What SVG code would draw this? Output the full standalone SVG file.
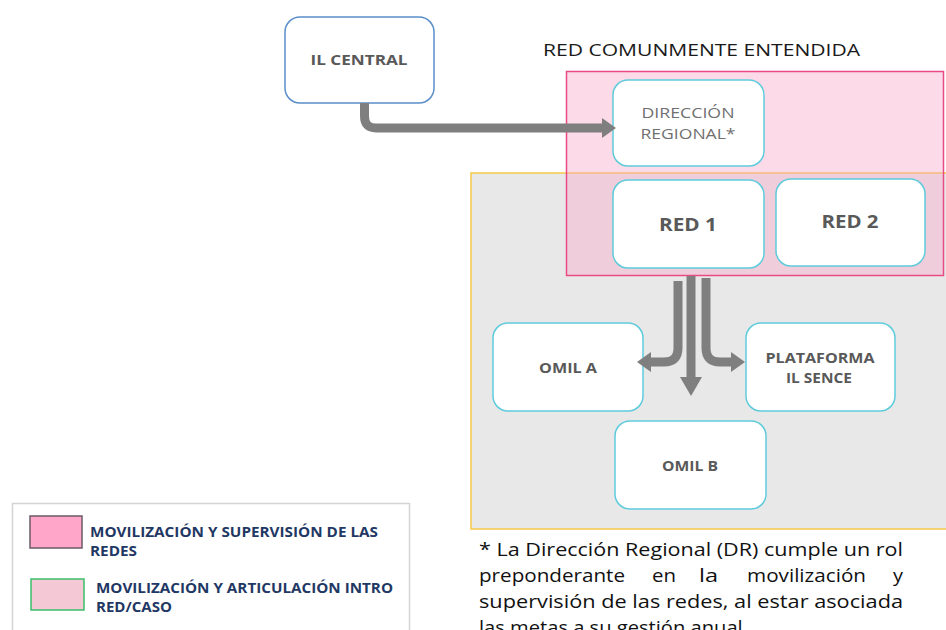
<svg xmlns="http://www.w3.org/2000/svg" width="946" height="630" viewBox="0 0 946 630">
<style>
.node rect{fill:#ffffff;stroke:#5ecbdc;stroke-width:1.5}
.lbl{font-family:"Open Sans","Liberation Sans",sans-serif;font-weight:bold;fill:#595959;text-anchor:middle}
.lg{font-family:"Open Sans","Liberation Sans",sans-serif;font-weight:bold;fill:#1f3864;font-size:13.5px}
.note{font-family:"Open Sans","Liberation Sans",sans-serif;fill:#111;font-size:19px}
.conn path{fill:none;stroke:#7f7f7f;stroke-width:9}
</style>
<defs>
<marker id="ah" markerUnits="userSpaceOnUse" markerWidth="16" markerHeight="22" refX="0" refY="10" orient="auto" viewBox="0 0 16 22">
<path d="M0,0 L14,10 L0,20 z" fill="#7f7f7f"/>
</marker>
<marker id="ahb" markerUnits="userSpaceOnUse" markerWidth="20" markerHeight="24" refX="0" refY="11" orient="auto" viewBox="0 0 20 24">
<path d="M0,0 L19,11 L0,22 z" fill="#7f7f7f"/>
</marker>
</defs>
<rect width="946" height="630" fill="#ffffff"/>
<g id="zone-gray"><rect x="471" y="173" width="480" height="356" fill="#e8e8e8" stroke="#f7c948" stroke-width="1.5"/></g>
<g id="zone-pink"><rect x="566.5" y="71.5" width="377" height="204" fill="#f7a6c6" fill-opacity="0.42" stroke="#e84a84" stroke-width="1.5"/></g>
<text x="543" y="56" font-family="Open Sans, Liberation Sans, sans-serif" font-size="17" fill="#1a1a1a" textLength="317" lengthAdjust="spacingAndGlyphs">RED COMUNMENTE ENTENDIDA</text>
<g id="il-central" class="node"><rect x="285" y="17" width="149" height="86" rx="15" style="stroke:#5b8fc9"/><text class="lbl" x="359" y="65" font-size="14.5" textLength="97" lengthAdjust="spacingAndGlyphs">IL CENTRAL</text></g>
<g id="direccion" class="node"><rect x="613" y="80" width="151" height="86" rx="15"/>
<text x="688" y="118" font-family="Open Sans, Liberation Sans, sans-serif" font-size="14" fill="#707070" text-anchor="middle" textLength="93" lengthAdjust="spacingAndGlyphs">DIRECCIÓN</text>
<text x="688" y="139" font-family="Open Sans, Liberation Sans, sans-serif" font-size="14" fill="#707070" text-anchor="middle" textLength="95" lengthAdjust="spacingAndGlyphs">REGIONAL*</text></g>
<g id="red1" class="node"><rect x="613" y="180" width="151" height="88" rx="15"/><text class="lbl" x="688" y="231" font-size="18.5" textLength="58" lengthAdjust="spacingAndGlyphs">RED 1</text></g>
<g id="red2" class="node"><rect x="776" y="179" width="149" height="87" rx="15"/><text class="lbl" x="850" y="228" font-size="18.5" textLength="57" lengthAdjust="spacingAndGlyphs">RED 2</text></g>
<g id="omil-a" class="node"><rect x="493" y="323" width="150" height="88" rx="15"/><text class="lbl" x="568" y="373" font-size="13.5" textLength="58" lengthAdjust="spacingAndGlyphs">OMIL A</text></g>
<g id="plataforma" class="node"><rect x="746" y="323" width="149" height="88" rx="15"/><text class="lbl" x="820" y="363" font-size="13.5" textLength="109" lengthAdjust="spacingAndGlyphs">PLATAFORMA</text><text class="lbl" x="819" y="383" font-size="13.5" textLength="66" lengthAdjust="spacingAndGlyphs">IL SENCE</text></g>
<g id="omil-b" class="node"><rect x="615" y="421" width="151" height="88" rx="15"/><text class="lbl" x="690" y="471" font-size="13.5" textLength="56" lengthAdjust="spacingAndGlyphs">OMIL B</text></g>
<g id="connectors" class="conn">
<path d="M364.5,103 V116 Q364.5,128 376,128 H602" marker-end="url(#ah)"/>
<path d="M678,281 V348 Q678,362 664,362 H651" marker-end="url(#ah)"/>
<path d="M691,276 V377" marker-end="url(#ahb)"/>
<path d="M706,278 V348 Q706,362 720,362 H731" marker-end="url(#ah)"/>
</g>
<g id="legend">
<rect x="12.5" y="503.5" width="397" height="140" fill="#ffffff" stroke="#d4d4d4" stroke-width="1.5"/>
<rect x="30" y="516" width="52" height="32" fill="#ffa6c9" stroke="#6b5a66" stroke-width="1.5"/>
<text class="lg" x="90" y="537" textLength="288" lengthAdjust="spacingAndGlyphs">MOVILIZACIÓN  Y SUPERVISIÓN DE LAS</text>
<text class="lg" x="90" y="556" textLength="47" lengthAdjust="spacingAndGlyphs">REDES</text>
<rect x="31" y="579" width="53" height="31" fill="#f4c8d5" stroke="#3cbf6a" stroke-width="1.5"/>
<text class="lg" x="96" y="593" textLength="297" lengthAdjust="spacingAndGlyphs">MOVILIZACIÓN  Y ARTICULACIÓN INTRO</text>
<text class="lg" x="96" y="612" textLength="76" lengthAdjust="spacingAndGlyphs">RED/CASO</text>
</g>
<g id="footnote">
<text class="note" x="479" y="556" textLength="424" lengthAdjust="spacingAndGlyphs">* La Dirección Regional (DR) cumple un rol</text>
<text class="note" y="582"><tspan x="479" textLength="146" lengthAdjust="spacingAndGlyphs">preponderante</tspan><tspan x="652" textLength="24" lengthAdjust="spacingAndGlyphs">en</tspan><tspan x="699" textLength="19" lengthAdjust="spacingAndGlyphs">la</tspan><tspan x="747" textLength="119" lengthAdjust="spacingAndGlyphs">movilización</tspan><tspan x="893" textLength="10" lengthAdjust="spacingAndGlyphs">y</tspan></text>
<text class="note" x="479" y="608" textLength="424" lengthAdjust="spacingAndGlyphs">supervisión de las redes, al estar asociada</text>
<text class="note" x="479" y="634" textLength="269" lengthAdjust="spacingAndGlyphs">las metas a su gestión anual.</text>
</g>
</svg>
